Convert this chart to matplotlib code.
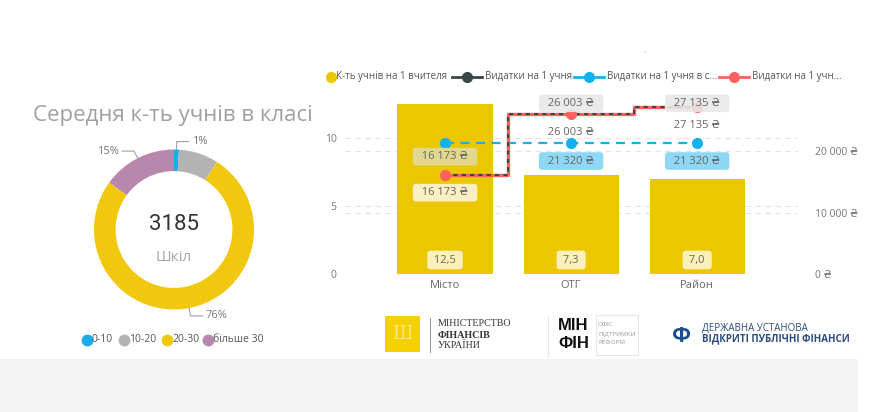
import numpy as np
import matplotlib.pyplot as plt
from matplotlib.patches import Rectangle
from matplotlib.lines import Line2D

plt.rcParams['font.family'] = ['Open Sans', 'DejaVu Sans']

# --- data: donut
class_groups = ['0-10', '10-20', '20-30', 'більше 30']
class_share = [1, 8, 76, 15]
class_colors = ['#1AABE8', '#B3B3B3', '#F2C80F', '#B887AD']
class_label_shown = [True, False, True, True]
schools_total = 3185

# --- data: combo chart
areas = ['Місто', 'ОТГ', 'Район']
pupils_per_teacher = [12.5, 7.3, 7.0]
spend_per_pupil = [16173, 26003, 27135]
spend_per_pupil_red = [16173, 26003, 27135]
spend_per_pupil_blue = [21320, 21320, 21320]
series_names = ['К-ть учнів на 1 вчителя', 'Видатки на 1 учня',
                'Видатки на 1 учня в с...', 'Видатки на 1 учн...']
left_ticks = [0, 5, 10]
right_ticks = [0, 10000, 20000]

W, H = 884, 412
def fx(x): return x / W
def fy(y): return 1 - y / H
PT = 0.72  # px -> pt at dpi 100

def uah(v):
    return f"{v:,}".replace(',', ' ') + ' ₴'

fig = plt.figure(figsize=(W / 100, H / 100), dpi=100)
fig.patch.set_facecolor('white')

# bottom grey band
fig.add_artist(Rectangle((0, 0), fx(858), fy(359), transform=fig.transFigure,
                         color='#F3F3F3', lw=0, zorder=-5))

# ---------------- donut ----------------
fig.text(fx(33), fy(115), 'Середня к-ть учнів в класі', fontsize=16,
         color='#A0A0A0', va='center', ha='left')

R = 100 / 74
axd = fig.add_axes([fx(74), fy(329.5), 200 / W, 200 / H])
axd.set_xlim(-R, R)
axd.set_ylim(-R, R)
axd.set_aspect('equal')
axd.axis('off')
wedges, _ = axd.pie(class_share, colors=class_colors, startangle=90, counterclock=False,
                    radius=1, wedgeprops=dict(width=0.27, linewidth=0))
for w, s, show in zip(wedges, class_share, class_label_shown):
    if not show:
        continue
    th = np.deg2rad((w.theta1 + w.theta2) / 2)
    c, sn = np.cos(th), np.sin(th)
    side = 1 if c >= 0 else -1
    x0, y0 = 1.0 * c, 1.0 * sn
    x1, y1 = 1.1 * c, 1.1 * sn
    x2 = x1 + side * 0.15
    axd.plot([x0, x1, x2], [y0, y1, y1], color='#A0A0A0', lw=0.8, clip_on=False)
    axd.text(x2 + side * 0.04, y1, f'{s}%', fontsize=8, color='#777777',
             ha='left' if side > 0 else 'right', va='center')
axd.text(0, 0.06, str(schools_total), fontsize=16, color='#333333', ha='center', va='center',
         family=['Roboto', 'DejaVu Sans'])
axd.text(0, -0.345, 'Шкіл', fontsize=11, color='#A6A6A6', ha='center', va='center')

# donut legend
for xm, name, col in zip([87, 124, 167, 208], class_groups, class_colors):
    fig.add_artist(Line2D([fx(xm)], [fy(340)], marker='o', ms=7.5, color=col, lw=0,
                          transform=fig.transFigure))
    fig.text(fx(xm + 5), fy(340), name, fontsize=7.5, color='#555555', va='center', ha='left')

# ---------------- combo chart ----------------
ax = fig.add_axes([fx(345), fy(274), (798 - 345) / W, (274 - 92) / H])
ax.patch.set_alpha(0)
x = np.arange(len(areas))
ytop = 13.4
k = 2211
ax.set_xlim(-0.794, 2.80)
ax.set_ylim(0, ytop)
ax.bar(x, pupils_per_teacher, width=0.755, color='#EBC700', zorder=2)
for v in left_ticks:
    ax.axhline(v, color='#E3E3E3', lw=0.8, ls=(0, (5, 4)), zorder=1)
for v in right_ticks[1:]:
    ax.axhline(v / k, color='#E3E3E3', lw=0.8, ls=(0, (5, 4)), zorder=1)
ax.set_yticks(left_ticks)
ax.set_yticklabels([str(v) for v in left_ticks])
ax.set_xticks(x)
ax.set_xticklabels(areas)
ax.tick_params(axis='y', length=0, labelsize=7.5, labelcolor='#777777', pad=6)
ax.tick_params(axis='x', length=0, labelsize=8, labelcolor='#666666', pad=4)
for s in ax.spines.values():
    s.set_visible(False)

for i, v in enumerate(pupils_per_teacher):
    ax.annotate(' ' + f'{v:.1f}'.replace('.', ',') + ' ', (i, 0), xytext=(0, 14 * PT),
                textcoords='offset points', ha='center', va='center', fontsize=8,
                color='#666666', zorder=5,
                bbox=dict(boxstyle='round,pad=0.35,rounding_size=0.3', fc='#FBF0B8', ec='none'))

ax2 = ax.twinx()
ax2.patch.set_alpha(0)
ax2.set_ylim(0, ytop * k)
ax2.set_yticks(right_ticks)
ax2.set_yticklabels([uah(v) for v in right_ticks])
ax2.tick_params(axis='y', length=0, labelsize=7.5, labelcolor='#777777', pad=12)
for s in ax2.spines.values():
    s.set_visible(False)

ax2.plot(x, spend_per_pupil_blue, color='#12B0EE', lw=1.6, ls=(0, (4, 3)), marker='o',
         ms=7, zorder=3)
ax2.plot(x, spend_per_pupil_red, drawstyle='steps-mid', color='#FD625E', lw=2.4, zorder=3)
ax2.plot(x, spend_per_pupil, drawstyle='steps-mid', color='#374649', lw=1.5,
         ls=(0, (2, 2)), zorder=3)
ax2.plot(x, spend_per_pupil_red, 'o', color='#FD625E', ms=7, zorder=3)

lab = dict(textcoords='offset points', ha='center', va='center', fontsize=8,
           color='#666666', zorder=6)
# red series labels (above)
red_off = [18, 11, 4]
red_fc = ['#E2D9A0', '#E8E8E8', '#E8E8E8']
for i, v in enumerate(spend_per_pupil_red):
    ax2.annotate('  ' + uah(v) + '  ', (i, v), xytext=(0, red_off[i] * PT),
                 bbox=dict(boxstyle='round,pad=0.3,rounding_size=0.3', fc=red_fc[i],
                           ec='none', alpha=0.9), **lab)
# dark series labels (below)
for i, v in enumerate(spend_per_pupil):
    bb = dict(boxstyle='round,pad=0.3,rounding_size=0.3', fc='#FBF0C2', ec='none') if i == 0 else None
    ax2.annotate('  ' + uah(v) + '  ', (i, v), xytext=(0, -18 * PT), bbox=bb, **lab)
# blue series labels (below)
for i, v in enumerate(spend_per_pupil_blue):
    if i == 0:
        continue
    ax2.annotate('  ' + uah(v) + '  ', (i, v), xytext=(0, -18 * PT),
                 bbox=dict(boxstyle='round,pad=0.3,rounding_size=0.3', fc='#8ED8F6', ec='none'),
                 **lab)

# clipped visual title
fig.text(fx(645), fy(54), '··', fontsize=5, color='#888888', ha='center', va='center')

# top legend
ly = fy(77)
fig.add_artist(Line2D([fx(331)], [ly], marker='o', ms=7, color='#EBC700', lw=0,
                      transform=fig.transFigure))
fig.text(fx(336), ly, series_names[0], fontsize=7, color='#555555', va='center')
leg_items = [(452, '#374649', True, series_names[1]),
             (574, '#12B0EE', False, series_names[2]),
             (719, '#FD625E', False, series_names[3])]
for xs, col, solid, name in leg_items:
    if solid:
        segs = [(xs, xs + 30)]
    else:
        segs = [(xs, xs + 8), (xs + 22, xs + 30)]
    for a, b in segs:
        fig.add_artist(Line2D([fx(a), fx(b)], [ly, ly], color=col, lw=2,
                              transform=fig.transFigure))
    fig.add_artist(Line2D([fx(xs + 15)], [ly], marker='o', ms=7, color=col, lw=0,
                          transform=fig.transFigure))
    fig.text(fx(xs + 33), ly, name, fontsize=7, color='#555555', va='center')

# ---------------- logos ----------------
fig.add_artist(Rectangle((fx(385), fy(352)), 35 / W, 36 / H, transform=fig.transFigure,
                         color='#F5D000', lw=0))
fig.text(fx(402.5), fy(334), 'Ш', fontsize=13, color='#FBE77A', ha='center', va='center',
         family=['DejaVu Serif'])
fig.add_artist(Line2D([fx(430), fx(430)], [fy(318), fy(352)], color='#9A9A9A', lw=0.8,
                      transform=fig.transFigure))
for yy, t, wt in [(323, 'МІНІСТЕРСТВО', 'normal'), (335, 'ФІНАНСІВ', 'bold'), (346, 'УКРАЇНИ', 'normal')]:
    fig.text(fx(438), fy(yy), t, fontsize=7.2, color='#333333', va='center', weight=wt,
             family=['Liberation Serif', 'DejaVu Serif'])

fig.add_artist(Line2D([fx(548), fx(548)], [fy(316), fy(356)], color='#E6E6E6', lw=0.8,
                      transform=fig.transFigure))
fig.text(fx(558), fy(326), 'МІН', fontsize=12, weight='bold', color='#111111', va='center',
         family=['Liberation Sans Narrow', 'Liberation Sans', 'DejaVu Sans'])
fig.text(fx(558), fy(343), 'ФІН', fontsize=12, weight='bold', color='#111111', va='center',
         family=['Liberation Sans Narrow', 'Liberation Sans', 'DejaVu Sans'])
fig.add_artist(Rectangle((fx(596), fy(355)), 42 / W, 40 / H, transform=fig.transFigure,
                         fill=False, ec='#E6E6E6', lw=0.8))
for yy, t in [(325, 'ОФІС'), (334, 'ПІДТРИМКИ'), (343, 'РЕФОРМ')]:
    fig.text(fx(598), fy(yy), t, fontsize=4.6, color='#999999', va='center')

fig.text(fx(682), fy(336), 'Ф', fontsize=16, weight='bold', color='#1F4E8C', ha='center',
         va='center')
fig.text(fx(702), fy(328), 'ДЕРЖАВНА УСТАНОВА', fontsize=7, color='#2B4C7E', va='center')
fig.text(fx(702), fy(339), 'ВІДКРИТІ ПУБЛІЧНІ ФІНАНСИ', fontsize=7, weight='bold',
         color='#2B4C7E', va='center')

fig.savefig('out.png', dpi=100)
